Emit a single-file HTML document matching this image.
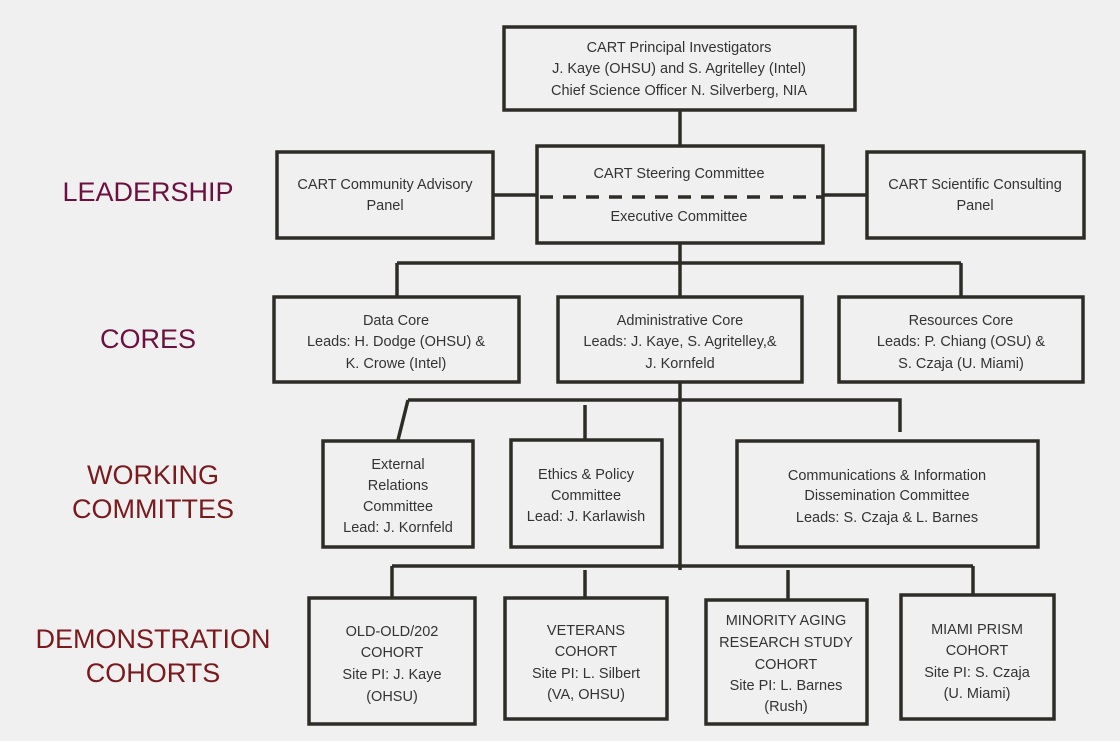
<!DOCTYPE html>
<html><head><meta charset="utf-8"><style>
html,body{margin:0;padding:0;background:#f1f0f0;}
svg{display:block;}
text{font-family:"Liberation Sans",sans-serif;}
.b{fill:#f1f0f0;stroke:#2e2c27;stroke-width:3.5;}
.l{stroke:#2e2c27;stroke-width:3.5;fill:none;}
.t{font-size:14.5px;fill:#333;text-anchor:middle;}
.h{font-size:27px;text-anchor:middle;}
</style></head><body>
<svg width="1120" height="741" viewBox="0 0 1120 741">
<!-- lines -->
<path class="l" d="M680 110V145M680 243V297M397 263H961M397 263V297M961 263V297"/>
<path class="l" d="M493 195H536M823 195H866"/>
<path class="l" d="M680 382V570M408 400H900V432M408 400L398 440M585 405V440"/>
<path class="l" d="M392 566H973M392 566V598M585 570V598M788 570V600M973 566V595"/>
<!-- boxes -->
<rect class="b" x="504" y="27" width="351" height="83"/>
<rect class="b" x="277" y="152" width="216" height="86"/>
<rect class="b" x="537" y="146" width="286" height="97"/>
<rect class="b" x="867" y="152" width="217" height="86"/>
<path d="M540 197H823" stroke="#2e2c27" stroke-width="3.5" stroke-dasharray="13,10"/>
<rect class="b" x="274" y="297" width="245" height="85"/>
<rect class="b" x="558" y="297" width="244" height="85"/>
<rect class="b" x="839" y="297" width="244" height="85"/>
<rect class="b" x="323" y="441" width="150" height="106"/>
<rect class="b" x="511" y="440" width="151" height="107"/>
<rect class="b" x="737" y="441" width="301" height="106"/>
<rect class="b" x="309" y="598" width="166" height="126"/>
<rect class="b" x="505" y="598" width="162" height="121"/>
<rect class="b" x="706" y="600" width="161" height="124"/>
<rect class="b" x="901" y="595" width="153" height="124"/>
<!-- texts -->
<text class="t" x="679" y="52">CART Principal Investigators</text>
<text class="t" x="679" y="73">J. Kaye (OHSU) and S. Agritelley (Intel)</text>
<text class="t" x="679" y="95">Chief Science Officer N. Silverberg, NIA</text>
<text class="t" x="385" y="189">CART Community Advisory</text>
<text class="t" x="385" y="210">Panel</text>
<text class="t" x="679" y="178">CART Steering Committee</text>
<text class="t" x="679" y="221">Executive Committee</text>
<text class="t" x="975" y="189">CART Scientific Consulting</text>
<text class="t" x="975" y="210">Panel</text>
<text class="t" x="396" y="325">Data Core</text>
<text class="t" x="396" y="346">Leads: H. Dodge (OHSU) &amp;</text>
<text class="t" x="396" y="368">K. Crowe (Intel)</text>
<text class="t" x="680" y="325">Administrative Core</text>
<text class="t" x="680" y="346">Leads: J. Kaye, S. Agritelley,&amp;</text>
<text class="t" x="680" y="368">J. Kornfeld</text>
<text class="t" x="961" y="325">Resources Core</text>
<text class="t" x="961" y="346">Leads: P. Chiang (OSU) &amp;</text>
<text class="t" x="961" y="368">S. Czaja (U. Miami)</text>
<text class="t" x="398" y="469">External</text>
<text class="t" x="398" y="490">Relations</text>
<text class="t" x="398" y="511">Committee</text>
<text class="t" x="398" y="532">Lead: J. Kornfeld</text>
<text class="t" x="586" y="479">Ethics &amp; Policy</text>
<text class="t" x="586" y="500">Committee</text>
<text class="t" x="586" y="521">Lead: J. Karlawish</text>
<text class="t" x="887" y="480">Communications &amp; Information</text>
<text class="t" x="887" y="500">Dissemination Committee</text>
<text class="t" x="887" y="522">Leads: S. Czaja &amp; L. Barnes</text>
<text class="t" x="392" y="636">OLD-OLD/202</text>
<text class="t" x="392" y="657">COHORT</text>
<text class="t" x="392" y="679">Site PI: J. Kaye</text>
<text class="t" x="392" y="701">(OHSU)</text>
<text class="t" x="586" y="635">VETERANS</text>
<text class="t" x="586" y="656">COHORT</text>
<text class="t" x="586" y="678">Site PI: L. Silbert</text>
<text class="t" x="586" y="699">(VA, OHSU)</text>
<text class="t" x="786" y="625">MINORITY AGING</text>
<text class="t" x="786" y="647">RESEARCH STUDY</text>
<text class="t" x="786" y="669">COHORT</text>
<text class="t" x="786" y="690">Site PI: L. Barnes</text>
<text class="t" x="786" y="711">(Rush)</text>
<text class="t" x="977" y="634">MIAMI PRISM</text>
<text class="t" x="977" y="655">COHORT</text>
<text class="t" x="977" y="677">Site PI: S. Czaja</text>
<text class="t" x="977" y="698">(U. Miami)</text>
<!-- section headings -->
<text class="h" x="148" y="201" fill="#6b1040">LEADERSHIP</text>
<text class="h" x="148" y="348" fill="#6b1040">CORES</text>
<text class="h" x="153" y="484" fill="#7a1a1f">WORKING</text>
<text class="h" x="153" y="518" fill="#7a1a1f">COMMITTES</text>
<text class="h" x="153" y="648" fill="#7a1a1f">DEMONSTRATION</text>
<text class="h" x="153" y="682" fill="#7a1a1f">COHORTS</text>
</svg>
</body></html>
